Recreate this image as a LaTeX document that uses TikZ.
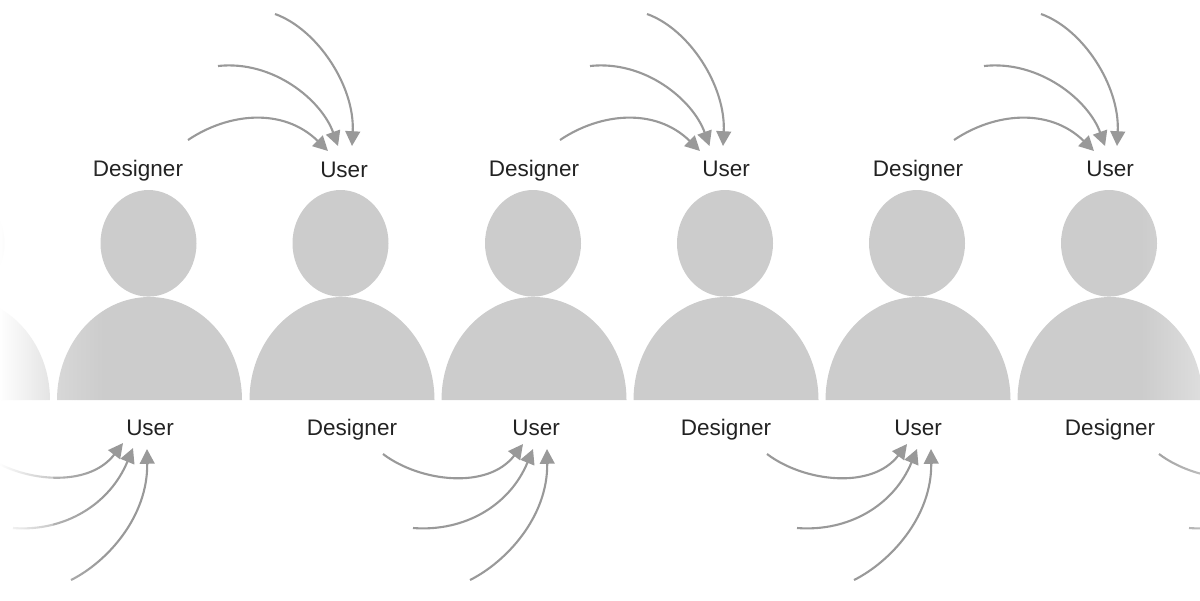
\documentclass[tikz,border=0pt]{standalone}
\usepackage{xcolor}
\usepackage{fontspec}
\setmainfont{Liberation Sans}
\usetikzlibrary{arrows.meta, fadings}

\definecolor{figgray}{HTML}{CCCCCC}
\definecolor{flowgray}{HTML}{999999}
\definecolor{labelink}{HTML}{222222}

\tikzfading[name=fadeedge, left color=transparent!0, right color=transparent!55]
\tikzfading[name=fadeleft, left color=transparent!75, right color=transparent!100]
\tikzfading[name=faderight, left color=transparent!100, right color=transparent!65]

\tikzset{
	head/.style={fill=figgray},
	body/.style={fill=figgray},
	role/.style={text=labelink, font=\fontsize{16}{18}\selectfont, inner sep=0pt, text height=12pt, text depth=3pt},
	flow/.style={draw=flowgray, line width=1.5pt, -{Triangle[length=10.5pt, width=10.5pt]}},
}

\begin{document}
\begin{tikzpicture}[x=0.025cm, y=-0.025cm]
			\useasboundingbox (0,0) rectangle (1200,600);
			\clip (0,0) rectangle (1200,600);

			% Heads
			\fill[head] (-43.5,243.3) ellipse [x radius=48, y radius=53.3];
			\fill[head] (148.5,243.3) ellipse [x radius=48, y radius=53.3];
			\fill[head] (340.5,243.3) ellipse [x radius=48, y radius=53.3];
			\fill[head] (533,243.3) ellipse [x radius=48, y radius=53.3];
			\fill[head] (725,243.3) ellipse [x radius=48, y radius=53.3];
			\fill[head] (917,243.3) ellipse [x radius=48, y radius=53.3];
			\fill[head] (1109,243.3) ellipse [x radius=48, y radius=53.3];

			% Bodies
			\fill[body] (-135,400) arc [start angle=180, end angle=360, x radius=92.5, y radius=103] -- cycle;
			\fill[body] (57,400) arc [start angle=180, end angle=360, x radius=92.5, y radius=103] -- cycle;
			\fill[body] (249.5,400) arc [start angle=180, end angle=360, x radius=92.5, y radius=103] -- cycle;
			\fill[body] (441.5,400) arc [start angle=180, end angle=360, x radius=92.5, y radius=103] -- cycle;
			\fill[body] (633.5,400) arc [start angle=180, end angle=360, x radius=92.5, y radius=103] -- cycle;
			\fill[body] (825.5,400) arc [start angle=180, end angle=360, x radius=92.5, y radius=103] -- cycle;
			\fill[body] (1017.5,400) arc [start angle=180, end angle=360, x radius=92.5, y radius=103] -- cycle;

			% Labels above
			\node[role] (des1) at (138,170.5) {Designer};
			\node[role] (use1) at (344,171.5) {User};
			\node[role] (des2) at (534,170.5) {Designer};
			\node[role] (use2) at (726,170.5) {User};
			\node[role] (des3) at (918,170.5) {Designer};
			\node[role] (use3) at (1110,170.5) {User};

			% Labels below
			\node[role] (use4) at (150,429.5) {User};
			\node[role] (des4) at (352,429.5) {Designer};
			\node[role] (use5) at (536,429.5) {User};
			\node[role] (des5) at (726,429.5) {Designer};
			\node[role] (use6) at (918,429.5) {User};
			\node[role] (des6) at (1110,429.5) {Designer};

			% Free ends of the arrows
			\coordinate (far1) at (275,14);
			\coordinate (mid1) at (218,66);
			\coordinate (far2) at (647,14);
			\coordinate (mid2) at (590,66);
			\coordinate (far3) at (1041,14);
			\coordinate (mid3) at (984,66);
			\coordinate (near4) at (-17,454);
			\coordinate (mid4) at (13,528);
			\coordinate (far4) at (71,580);
			\coordinate (mid5) at (413,528);
			\coordinate (far5) at (470,580);
			\coordinate (mid6) at (797,528);
			\coordinate (far6) at (854,580);
			\coordinate (mid7) at (1189,528);
			\coordinate (tipa7) at (1299,444);
			\coordinate (tipb7) at (1309,449);

			% Arrows above
			\draw[flow] (far1) .. controls +(42,15) and +(3,-60) .. ([shift={(8,-25.5)}]use1.center);
			\draw[flow] (mid1) .. controls +(55,-6) and +(-16.5,-46) .. ([shift={(-6,-25.5)}]use1.center);
			\draw[flow] ([shift={(50,-30.5)}]des1.center) .. controls +(40,-27) and +(-45,-44) .. ([shift={(-16,-20.5)}]use1.center);

			\draw[flow] (far2) .. controls +(42,15) and +(3,-60) .. ([shift={(-3,-24.5)}]use2.center);
			\draw[flow] (mid2) .. controls +(55,-6) and +(-16.5,-46) .. ([shift={(-16.5,-24.5)}]use2.center);
			\draw[flow] ([shift={(26,-30.5)}]des2.center) .. controls +(40,-27) and +(-45,-44) .. ([shift={(-26,-19.5)}]use2.center);

			\draw[flow] (far3) .. controls +(42,15) and +(3,-60) .. ([shift={(7,-24.5)}]use3.center);
			\draw[flow] (mid3) .. controls +(55,-6) and +(-16.5,-46) .. ([shift={(-5,-24.5)}]use3.center);
			\draw[flow] ([shift={(36,-30.5)}]des3.center) .. controls +(40,-27) and +(-45,-44) .. ([shift={(-16,-19.5)}]use3.center);

			% Arrows below
			\draw[flow] (near4) .. controls +(37,28) and +(-35,46) .. ([shift={(-27,13.5)}]use4.center);
			\draw[flow] (mid4) .. controls +(52,4) and +(-23,56) .. ([shift={(-17,18.5)}]use4.center);
			\draw[flow] (far4) .. controls +(36,-18) and +(1,68) .. ([shift={(-3,19.5)}]use4.center);

			\draw[flow] ([shift={(31,24.5)}]des4.center) .. controls +(37,28) and +(-35,46) .. ([shift={(-13,14.5)}]use5.center);
			\draw[flow] (mid5) .. controls +(52,4) and +(-23,56) .. ([shift={(-3,19.5)}]use5.center);
			\draw[flow] (far5) .. controls +(36,-18) and +(1,68) .. ([shift={(11,19.5)}]use5.center);

			\draw[flow] ([shift={(41,24.5)}]des5.center) .. controls +(37,28) and +(-35,46) .. ([shift={(-11,14.5)}]use6.center);
			\draw[flow] (mid6) .. controls +(52,4) and +(-23,56) .. ([shift={(-1,19.5)}]use6.center);
			\draw[flow] (far6) .. controls +(36,-18) and +(1,68) .. ([shift={(13,19.5)}]use6.center);

			\draw[flow] ([shift={(49,24.5)}]des6.center) .. controls +(37,28) and +(-35,46) .. (tipa7);
			\draw[flow] (mid7) .. controls +(52,4) and +(-23,56) .. (tipb7);

			% Fades at the edges
			\fill[white, path fading=fadeedge] (-1,-1) rectangle (53,601);
			\fill[white, path fading=fadeleft] (53,-1) rectangle (105,601);
			\fill[white, path fading=faderight] (1140,-1) rectangle (1201,601);
\end{tikzpicture}
\end{document}
